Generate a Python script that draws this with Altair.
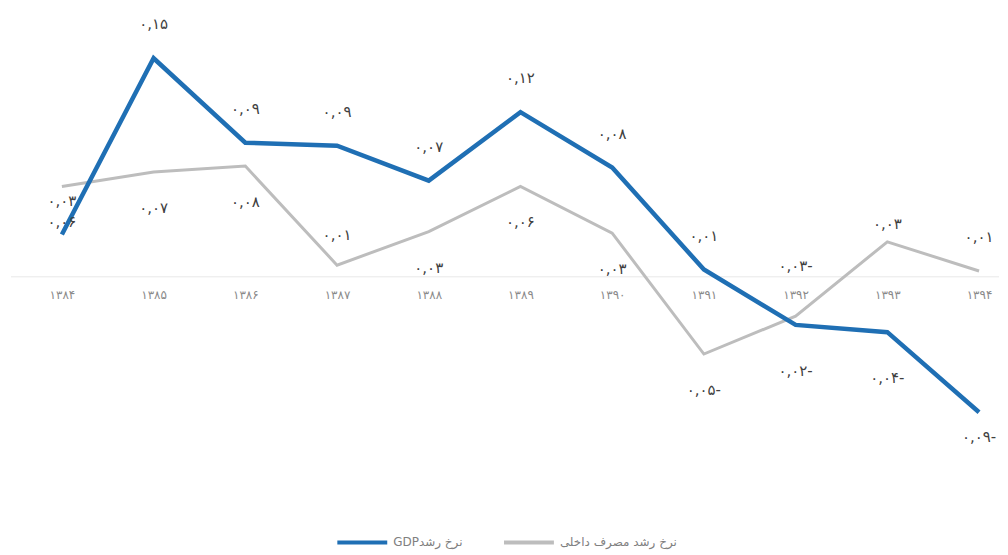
import altair as alt
import pandas as pd

# ---- data ----
years = ["۱۳۸۴", "۱۳۸۵", "۱۳۸۶", "۱۳۸۷", "۱۳۸۸", "۱۳۸۹", "۱۳۹۰", "۱۳۹۱", "۱۳۹۲", "۱۳۹۳", "۱۳۹۴"]
gdp_growth = [0.029, 0.150, 0.092, 0.090, 0.066, 0.113, 0.075, 0.005, -0.033, -0.038, -0.093]
cons_growth = [0.062, 0.072, 0.076, 0.008, 0.031, 0.062, 0.030, -0.053, -0.027, 0.024, 0.004]
gdp_labels = ["۰,۰۳", "۰,۱۵", "۰,۰۹", "۰,۰۹", "۰,۰۷", "۰,۱۲", "۰,۰۸", "۰,۰۱", "۰,۰۲-", "۰,۰۴-", "۰,۰۹-"]
cons_labels = ["۰,۰۶", "۰,۰۷", "۰,۰۸", "۰,۰۱", "۰,۰۳", "۰,۰۶", "۰,۰۳", "۰,۰۵-", "۰,۰۳-", "۰,۰۳", "۰,۰۱"]
series_gdp = "نرخ رشدGDP"
series_cons = "نرخ رشد مصرف داخلی"

# ---- style ----
BLUE = "#1f6fb4"
GRAY = "#bdbdbd"
FONT = "DejaVu Sans"
# data-label placement (pixel offset from the point), as in the reference
GDP_DY_DEFAULT = -34
GDP_DY_SPECIAL = {"۱۳۹۲": 46, "۱۳۹۳": 46, "۱۳۹۴": 25}
CONS_DY_DEFAULT = 36
CONS_DY_SPECIAL = {"۱۳۸۷": -30, "۱۳۹۲": -50, "۱۳۹۳": -18, "۱۳۹۴": -34}

rows = []
for y, v, l in zip(years, gdp_growth, gdp_labels):
    rows.append({"year": y, "value": v, "label": l, "series": series_gdp,
                 "dy": GDP_DY_SPECIAL.get(y, GDP_DY_DEFAULT)})
for y, v, l in zip(years, cons_growth, cons_labels):
    rows.append({"year": y, "value": v, "label": l, "series": series_cons,
                 "dy": CONS_DY_SPECIAL.get(y, CONS_DY_DEFAULT)})
df = pd.DataFrame(rows)

W, H = 990, 438
YSCALE = alt.Scale(domain=[-0.12, 0.18], nice=False, zero=False)
x_enc = alt.X("year:O", sort=years, scale=alt.Scale(range=[51, 970], padding=0),
              axis=alt.Axis(title=None, domain=False, ticks=False, grid=False, labelAngle=0,
                            labelColor="#8a8a8a", labelFontSize=12, labelFont=FONT,
                            offset=-175, labelPadding=13))
y_enc = alt.Y("value:Q", scale=YSCALE, axis=None)
color_enc = alt.Color("series:N",
                      scale=alt.Scale(domain=[series_gdp, series_cons], range=[BLUE, GRAY]),
                      legend=alt.Legend(title=None, orient="none", legendX=325, legendY=502,
                                        direction="horizontal", symbolType="stroke",
                                        symbolSize=2500, symbolStrokeWidth=4,
                                        labelFontSize=12, labelColor="#808080", labelFont=FONT,
                                        labelOffset=4, columnPadding=33, labelLimit=300,
                                        labelExpr="'\u202b' + datum.label + '\u202c'"))

base = alt.Chart(df)

zero = alt.Chart(pd.DataFrame({"z": [0]})).mark_rule(color="#e8e8e8", strokeWidth=1).encode(
    y=alt.Y("z:Q", scale=YSCALE, axis=None))

line_cons = base.transform_filter(alt.datum.series == series_cons).mark_line(
    strokeWidth=3, strokeJoin="miter").encode(x=x_enc, y=y_enc, color=color_enc)
line_gdp = base.transform_filter(alt.datum.series == series_gdp).mark_line(
    strokeWidth=4.5, strokeJoin="miter").encode(x=x_enc, y=y_enc, color=color_enc)

text_layers = []
for off in sorted(set(df["dy"])):
    text_layers.append(
        base.transform_filter(alt.datum.dy == int(off)).mark_text(
            dy=int(off), fontSize=15, font=FONT, color="#404040", baseline="middle").encode(
            x=alt.X("year:O", sort=years), y="value:Q", text="label:N"))

chart = alt.layer(zero, line_cons, line_gdp, *text_layers).properties(
    width=W, height=H,
    padding={"left": 2, "top": 6, "right": 0, "bottom": 0},
).configure(font=FONT, background="white").configure_view(stroke=None)

chart.save("out.html", embed_options={"renderer": "svg", "actions": False})
